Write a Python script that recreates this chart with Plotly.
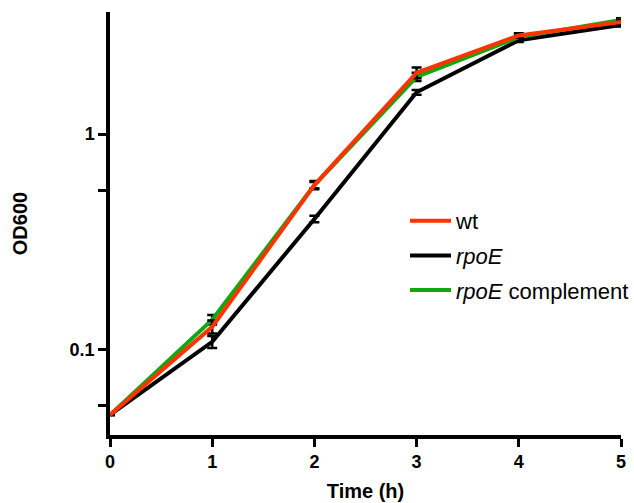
import plotly.graph_objects as go

time_h = [0, 1, 2, 3, 4, 5]
wt = [0.050, 0.128, 0.58, 1.92, 2.86, 3.30]
wt_err = [0.0, 0.009, 0.025, 0.11, 0.07, 0.08]
rpoE = [0.050, 0.109, 0.404, 1.56, 2.72, 3.20]
rpoE_err = [0.0, 0.007, 0.014, 0.04, 0.05, 0.05]
comp = [0.050, 0.138, 0.58, 1.84, 2.81, 3.37]
comp_err = [0.0, 0.007, 0.02, 0.08, 0.05, 0.07]

ytick_vals = [0.055, 0.1, 0.55, 1]
ytick_text = ["", "0.1", "", "1"]
xtick_vals = [0, 1, 2, 3, 4, 5]

RED = "#ff3300"
GREEN = "#10a810"
BLACK = "#000000"

def err(a):
    return dict(type="data", array=a, visible=True, color="black", thickness=2.5, width=5)

fig = go.Figure()
fig.add_trace(go.Scatter(x=time_h, y=rpoE, error_y=err(rpoE_err), mode="lines",
                         line=dict(color=BLACK, width=4), name="<i>rpoE</i>",
                         legendrank=2, legendgroup="b", cliponaxis=False))
fig.add_trace(go.Scatter(x=time_h, y=comp, error_y=err(comp_err), mode="lines",
                         line=dict(color=GREEN, width=4), name="<i>rpoE</i> complement",
                         legendrank=3, legendgroup="c", cliponaxis=False))
fig.add_trace(go.Scatter(x=time_h, y=wt, error_y=err(wt_err), mode="lines",
                         line=dict(color=RED, width=4), name="wt",
                         legendrank=1, legendgroup="a", cliponaxis=False))

fig.update_layout(
    width=634, height=503,
    margin=dict(l=110, r=13, t=12, b=68, autoexpand=False),
    plot_bgcolor="white", paper_bgcolor="white",
    font=dict(family="Liberation Sans, Arial, sans-serif", color="black"),
    legend=dict(x=(405 - 110) / 511, y=(435 - 200) / 423, xanchor="left", yanchor="top",
                font=dict(size=22), tracegroupgap=3, itemwidth=41,
                bgcolor="rgba(0,0,0,0)"),
    xaxis=dict(range=[0, 5], tickvals=xtick_vals, showgrid=False, zeroline=False,
               automargin=False,
               showline=True, linecolor="black", linewidth=3.5,
               ticks="outside", ticklen=8, tickwidth=3, tickcolor="black",
               tickfont=dict(size=18, family="Liberation Sans, Arial", weight="bold"),
               title=dict(text="<b>Time (h)</b>", font=dict(size=20), standoff=14)),
    yaxis=dict(type="log", range=[-1.394, 0.565], tickvals=ytick_vals, ticktext=ytick_text,
               showgrid=False, zeroline=False, automargin=False,
               showline=True, linecolor="black", linewidth=3.5,
               ticks="outside", ticklen=8, tickwidth=3, tickcolor="black",
               tickfont=dict(size=18, family="Liberation Sans, Arial", weight="bold"),
               title=dict(text="<b>OD600</b>", font=dict(size=20), standoff=38)),
)

fig.write_html("out.html")
